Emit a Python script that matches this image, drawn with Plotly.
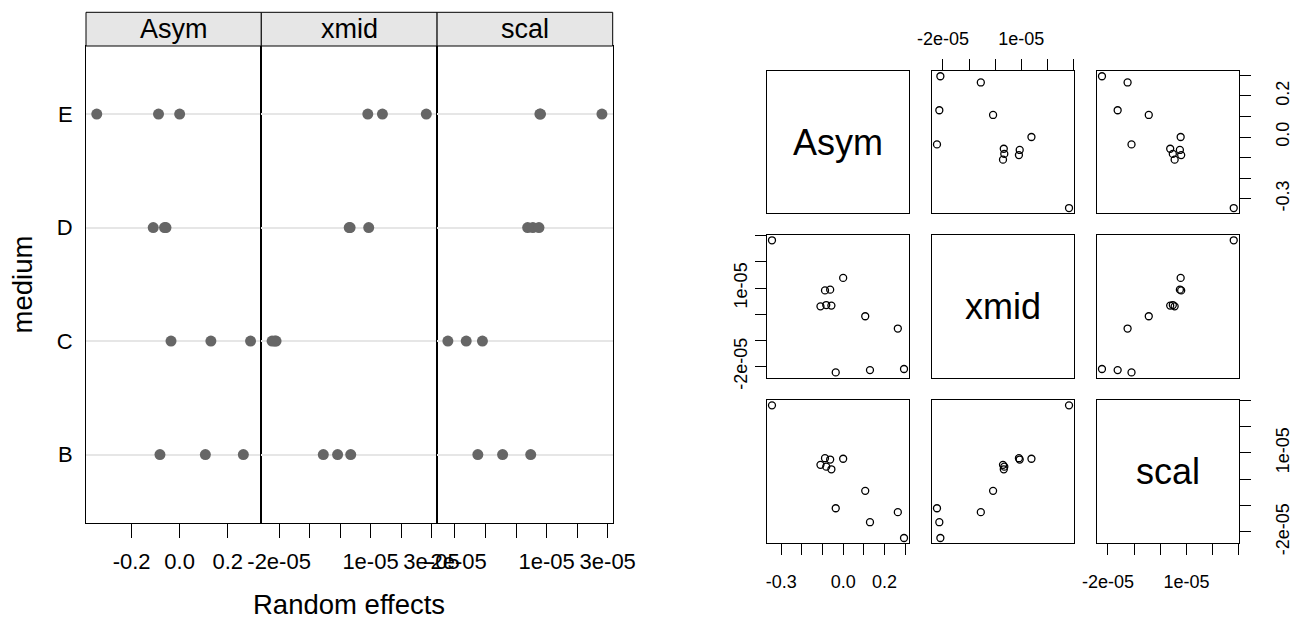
import plotly.graph_objects as go

W, H = 1290, 618
FONT = "Liberation Sans, Arial, Helvetica, sans-serif"

# ---- data (random effects per medium/group) ----
medium = ["B", "B", "B", "C", "C", "C", "D", "D", "D", "E", "E", "E"]
asym = [0.265, 0.107, -0.082, 0.295, 0.130, -0.036, -0.057, -0.110, -0.063, -0.345, 0.000, -0.088]
xmid = [-0.55e-5, -0.08e-5, 0.35e-5, -2.10e-5, -2.14e-5, -2.23e-5, 0.33e-5, 0.30e-5, 0.94e-5, 2.83e-5, 1.39e-5, 0.91e-5]
scal = [-1.25e-5, -0.44e-5, 0.48e-5, -2.23e-5, -1.63e-5, -1.10e-5, 0.38e-5, 0.55e-5, 0.75e-5, 2.81e-5, 0.78e-5, 0.80e-5]
params = ["Asym", "xmid", "scal"]
levels = ["B", "C", "D", "E"]

# dotplot tick labels
dot_asym_vals = [-0.2, 0.0, 0.2]
dot_asym_text = ["-0.2", "0.0", "0.2"]
dot_e_vals = [-2e-5, -1e-5, 0, 1e-5, 2e-5, 3e-5]
dot_e_text = ["-2e-05", "", "", "1e-05", "", "3e-05"]

# pairs tick labels
pair_asym_vals = [-0.3, -0.2, -0.1, 0.0, 0.1, 0.2, 0.3]
pair_asym_text = ["-0.3", "", "", "0.0", "", "0.2", ""]
pair_e_vals = [-2e-5, -1e-5, 0, 1e-5, 2e-5, 3e-5]
pair_e_text = ["-2e-05", "", "", "1e-05", "", ""]

series = {"Asym": asym, "xmid": xmid, "scal": scal}
dot_ticks = {"Asym": (dot_asym_vals, dot_asym_text),
             "xmid": (dot_e_vals, dot_e_text),
             "scal": (dot_e_vals, dot_e_text)}
pair_ticks = {"Asym": (pair_asym_vals, pair_asym_text),
              "xmid": (pair_e_vals, pair_e_text),
              "scal": (pair_e_vals, pair_e_text)}


def fx(p):
    return p / W


def fy(p):
    return 1 - p / H


def ext(vals, f):
    lo, hi = min(vals), max(vals)
    d = (hi - lo) * f
    return [lo - d, hi + d]


def label(text, x, y, size, angle=0):
    return dict(text=text, xref="paper", yref="paper", x=fx(x), y=fy(y),
                xanchor="center", yanchor="middle", showarrow=False, textangle=angle,
                font=dict(size=size, color="black", family=FONT))


fig = go.Figure()
layout = {}
shapes = []
annotations = []

# ---- left: lattice-style dotplot ----
dot_cols = [(86, 261.3), (261.3, 437.1), (437.1, 612.7)]
dot_top, dot_bot = 46, 522.7
strip_top = 12.3

for k, p in enumerate(params):
    n = "" if k == 0 else str(k + 1)
    fig.add_trace(go.Scatter(
        x=series[p], y=medium, mode="markers",
        marker=dict(color="#666666", size=11),
        xaxis="x" + n, yaxis="y" + n, showlegend=False))
    tv, tt = dot_ticks[p]
    layout["xaxis" + n] = dict(
        domain=[fx(dot_cols[k][0]), fx(dot_cols[k][1])], range=ext(series[p], 0.07),
        anchor="y" + n, showline=True, mirror=True, linecolor="black", linewidth=1,
        ticks="outside", ticklen=14, tickwidth=1, tickcolor="black",
        tickvals=tv, ticktext=tt, showgrid=False, zeroline=False, automargin=False,
        tickfont=dict(size=22, color="black", family=FONT), ticklabelstandoff=5)
    layout["yaxis" + n] = dict(
        domain=[fy(dot_bot), fy(dot_top)], anchor="x" + n, type="category",
        categoryorder="array", categoryarray=levels, range=[-0.6, 3.6],
        showline=True, mirror=True, linecolor="black", linewidth=1,
        showgrid=True, gridcolor="#e6e6e6", gridwidth=1.5, zeroline=False,
        ticks="", showticklabels=(k == 0), automargin=False,
        tickfont=dict(size=22, color="black", family=FONT), ticklabelstandoff=8)
    shapes.append(dict(type="rect", xref="paper", yref="paper",
                       x0=fx(dot_cols[k][0]), x1=fx(dot_cols[k][1]),
                       y0=fy(dot_top), y1=fy(strip_top),
                       fillcolor="#e6e6e6", line=dict(color="black", width=1)))
    annotations.append(label(p, (dot_cols[k][0] + dot_cols[k][1]) / 2,
                             (dot_top + strip_top) / 2, 27))

annotations.append(label("Random effects", 349.4, 604, 27.5))
annotations.append(label("medium", 22, 284.4, 27.5, angle=-90))

# ---- right: pairs plot ----
cols_px = [(766.7, 909.3), (931.7, 1074.3), (1096.7, 1239.0)]
rows_px = [(71.0, 213.3), (235.0, 377.7), (400.0, 543.3)]

for i in range(3):
    for j in range(3):
        k = 4 + 3 * i + j
        xn, yn = "x" + str(k), "y" + str(k)
        px_, py_ = params[j], params[i]
        xv, xt = pair_ticks[px_]
        yv, yt = pair_ticks[py_]
        xside = None
        if i == 0 and j == 1:
            xside = "top"
        elif i == 2 and j in (0, 2):
            xside = "bottom"
        yside = None
        if j == 0 and i == 1:
            yside = "left"
        elif j == 2 and i in (0, 2):
            yside = "right"
        xa = dict(domain=[fx(cols_px[j][0]), fx(cols_px[j][1])], range=ext(series[px_], 0.04),
                  anchor=yn, showline=True, mirror=True, linecolor="black", linewidth=1,
                  showgrid=False, zeroline=False, automargin=False)
        if xside:
            xa.update(side=xside, ticks="outside", ticklen=11, tickwidth=1, tickcolor="black",
                      tickvals=xv, ticktext=xt, showticklabels=True,
                      tickfont=dict(size=18, color="black", family=FONT),
                      ticklabelstandoff=7 if xside == "top" else 11)
        else:
            xa.update(ticks="", showticklabels=False)
        ya = dict(domain=[fy(rows_px[i][1]), fy(rows_px[i][0])], range=ext(series[py_], 0.04),
                  anchor=xn, showline=True, mirror=True, linecolor="black", linewidth=1,
                  showgrid=False, zeroline=False, automargin=False)
        if yside:
            ya.update(side=yside, ticks="outside", ticklen=11, tickwidth=1, tickcolor="black",
                      tickvals=yv, ticktext=yt, showticklabels=True, tickangle=-90,
                      tickfont=dict(size=18, color="black", family=FONT),
                      ticklabelstandoff=1 if yside == "left" else 16)
        else:
            ya.update(ticks="", showticklabels=False)
        layout["xaxis" + str(k)] = xa
        layout["yaxis" + str(k)] = ya
        if i != j:
            fig.add_trace(go.Scatter(
                x=series[px_], y=series[py_], mode="markers",
                marker=dict(symbol="circle-open", size=7, color="black", line=dict(width=1.3)),
                xaxis=xn, yaxis=yn, showlegend=False))
        else:
            # empty trace so the diagonal panel's frame is drawn
            fig.add_trace(go.Scatter(x=[None], y=[None], mode="markers",
                                     xaxis=xn, yaxis=yn, showlegend=False, hoverinfo="skip"))
            annotations.append(label(params[i], (cols_px[j][0] + cols_px[j][1]) / 2,
                                     (rows_px[i][0] + rows_px[i][1]) / 2, 36))

fig.update_layout(width=W, height=H, margin=dict(l=0, r=0, t=0, b=0, autoexpand=False),
                  paper_bgcolor="white", plot_bgcolor="white",
                  font=dict(family=FONT, color="black"),
                  shapes=shapes, annotations=annotations, showlegend=False, **layout)

fig.write_html("out.html")
